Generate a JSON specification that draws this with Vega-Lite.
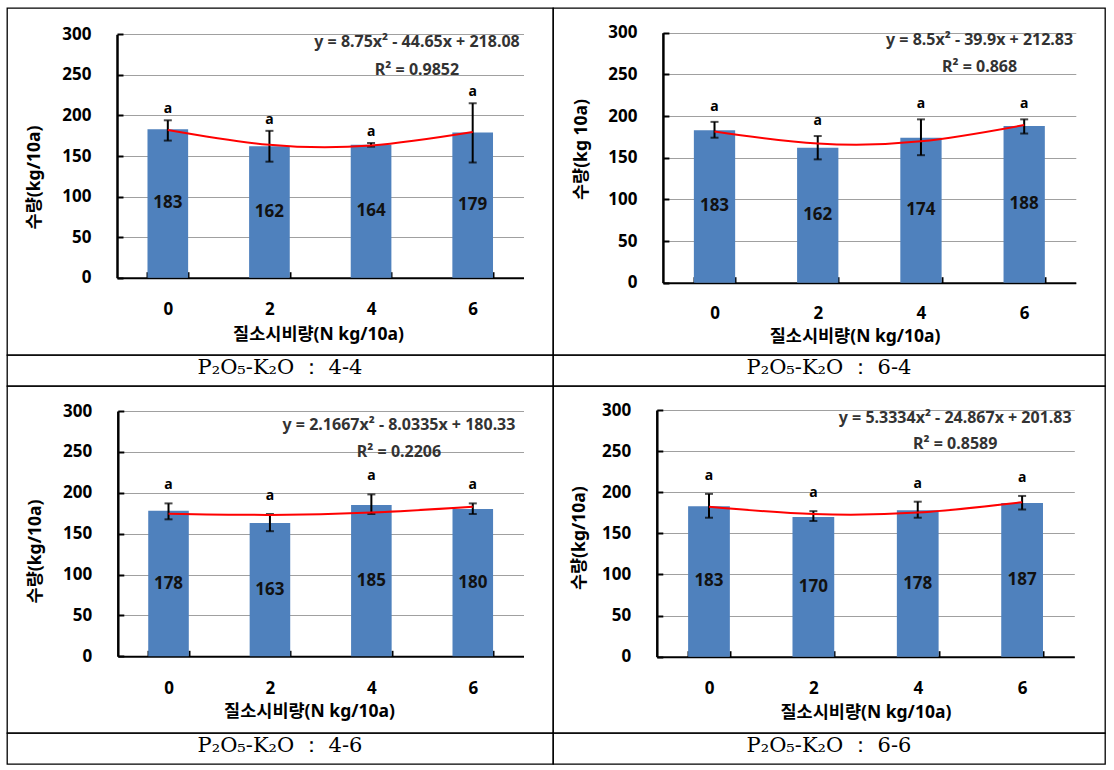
{
  "$schema": "https://vega.github.io/schema/vega-lite/v6.json",
  "background": "white",
  "padding": {"left": 6, "top": 7, "right": 0, "bottom": 0},
  "columns": 2,
  "spacing": 0,
  "bounds": "flush",
  "datasets": {
    "p1": [
      {"n": "0", "value": 183, "lo": 169, "hi": 194, "trend": 182.18, "sig": "a"},
      {"n": "2", "value": 162, "lo": 143, "hi": 181, "trend": 163.78, "sig": "a"},
      {"n": "4", "value": 164, "lo": 161.5, "hi": 166, "trend": 162.88, "sig": "a"},
      {"n": "6", "value": 179, "lo": 142, "hi": 215, "trend": 179.48, "sig": "a"}
    ],
    "p2": [
      {"n": "0", "value": 183, "lo": 174, "hi": 193, "trend": 181.43, "sig": "a"},
      {"n": "2", "value": 162, "lo": 148, "hi": 176, "trend": 167.03, "sig": "a"},
      {"n": "4", "value": 174, "lo": 153, "hi": 196, "trend": 169.63, "sig": "a"},
      {"n": "6", "value": 188, "lo": 179, "hi": 196, "trend": 189.23, "sig": "a"}
    ],
    "p3": [
      {"n": "0", "value": 178, "lo": 167.5, "hi": 187, "trend": 174.46, "sig": "a"},
      {"n": "2", "value": 163, "lo": 153, "hi": 174, "trend": 172.93, "sig": "a"},
      {"n": "4", "value": 185, "lo": 174, "hi": 198, "trend": 175.73, "sig": "a"},
      {"n": "6", "value": 180, "lo": 174, "hi": 187, "trend": 182.86, "sig": "a"}
    ],
    "p4": [
      {"n": "0", "value": 183, "lo": 169, "hi": 198, "trend": 182.30, "sig": "a"},
      {"n": "2", "value": 170, "lo": 165, "hi": 177, "trend": 173.43, "sig": "a"},
      {"n": "4", "value": 178, "lo": 169, "hi": 188.5, "trend": 175.23, "sig": "a"},
      {"n": "6", "value": 187, "lo": 179, "hi": 195.5, "trend": 187.70, "sig": "a"}
    ]
  },
  "concat": [
    {
      "width": 546, "height": 347,
      "view": {"stroke": "#000", "strokeWidth": 1.3},
      "title": {"text": "y = 8.75x² - 44.65x + 218.08", "subtitle": "R² = 0.9852", "anchor": "start", "align": "center", "frame": "group", "dx": 410, "offset": -70, "subtitlePadding": 12.3},
      "data": {"name": "p1"},
      "resolve": {"scale": {"y": "independent"}},
      "encoding": {
        "x": {"field": "n", "type": "ordinal", "scale": {"domain": ["0", "2", "4", "6"], "range": [110, 516.5], "paddingInner": 0.6, "paddingOuter": 0.3},
          "axis": {"title": "질소시비량(N kg/10a)", "titleX": 311, "titleY": 48, "offset": -77.3}}
      },
      "layer": [
        {"mark": {"type": "bar", "color": "#4F81BD"},
         "encoding": {"y": {"field": "value", "type": "quantitative", "scale": {"domain": [0, 300], "range": [269.7, 26.3], "nice": false},
           "axis": {"title": "수량(kg/10a)", "values": [0, 50, 100, 150, 200, 250, 300], "offset": -110, "titleX": -74, "titleY": 169}}}},
        {"mark": {"type": "errorbar", "ticks": {"size": 8, "thickness": 2, "color": "#000"}, "rule": {"strokeWidth": 2, "color": "#000"}},
         "encoding": {"y": {"field": "lo", "type": "quantitative", "scale": {"domain": [0, 300], "range": [269.7, 26.3], "nice": false}, "axis": null}, "y2": {"field": "hi"}}},
        {"mark": {"type": "line", "color": "#FF0000", "strokeWidth": 2, "interpolate": "natural"},
         "encoding": {"y": {"field": "trend", "type": "quantitative", "scale": {"domain": [0, 300], "range": [269.7, 26.3], "nice": false}, "axis": null}}},
        {"mark": {"type": "text", "dy": -11, "fontSize": 14, "fontWeight": "bold", "color": "#000"},
         "encoding": {"y": {"field": "hi", "type": "quantitative", "scale": {"domain": [0, 300], "range": [269.7, 26.3], "nice": false}, "axis": null}, "text": {"field": "sig"}}},
        {"mark": {"type": "text", "fontSize": 17, "fontWeight": "bold", "color": "#111"},
         "encoding": {"y": {"field": "value", "type": "quantitative", "scale": {"domain": [0, 600], "range": [269.7, 26.3], "nice": false}, "axis": null}, "text": {"field": "value"}}}
      ]
    },
    {
      "width": 552, "height": 347,
      "view": {"stroke": "#000", "strokeWidth": 1.3},
      "title": {"text": "y = 8.5x² - 39.9x + 212.83", "subtitle": "R² = 0.868", "anchor": "start", "align": "center", "frame": "group", "dx": 426.6, "offset": -66.7, "subtitlePadding": 10.4},
      "data": {"name": "p2"},
      "resolve": {"scale": {"y": "independent"}},
      "encoding": {
        "x": {"field": "n", "type": "ordinal", "scale": {"domain": ["0", "2", "4", "6"], "range": [109.9, 522.8], "paddingInner": 0.6, "paddingOuter": 0.3},
          "axis": {"title": "질소시비량(N kg/10a)", "titleX": 301.6, "titleY": 45, "offset": -72.3, "labelPadding": 29}}
      },
      "layer": [
        {"mark": {"type": "bar", "color": "#4F81BD"},
         "encoding": {"y": {"field": "value", "type": "quantitative", "scale": {"domain": [0, 300], "range": [274.7, 24.7], "nice": false},
           "axis": {"title": "수량(kg 10a)", "values": [0, 50, 100, 150, 200, 250, 300], "offset": -109.9, "titleX": -72, "titleY": 141}}}},
        {"mark": {"type": "errorbar", "ticks": {"size": 8, "thickness": 2, "color": "#000"}, "rule": {"strokeWidth": 2, "color": "#000"}},
         "encoding": {"y": {"field": "lo", "type": "quantitative", "scale": {"domain": [0, 300], "range": [274.7, 24.7], "nice": false}, "axis": null}, "y2": {"field": "hi"}}},
        {"mark": {"type": "line", "color": "#FF0000", "strokeWidth": 2, "interpolate": "natural"},
         "encoding": {"y": {"field": "trend", "type": "quantitative", "scale": {"domain": [0, 300], "range": [274.7, 24.7], "nice": false}, "axis": null}}},
        {"mark": {"type": "text", "dy": -15, "fontSize": 14, "fontWeight": "bold", "color": "#000"},
         "encoding": {"y": {"field": "hi", "type": "quantitative", "scale": {"domain": [0, 300], "range": [274.7, 24.7], "nice": false}, "axis": null}, "text": {"field": "sig"}}},
        {"mark": {"type": "text", "fontSize": 17, "fontWeight": "bold", "color": "#111"},
         "encoding": {"y": {"field": "value", "type": "quantitative", "scale": {"domain": [0, 600], "range": [274.7, 24.7], "nice": false}, "axis": null}, "text": {"field": "value"}}}
      ]
    },
    {
      "width": 546, "height": 31,
      "view": {"stroke": "#000", "strokeWidth": 1.3},
      "data": {"values": [{"label": "P₂O₅-K₂O ： 4-4"}]},
      "mark": {"type": "text", "font": "DejaVu Serif", "fontSize": 21, "dy": -3, "color": "#000"},
      "encoding": {"text": {"field": "label"}}
    },
    {
      "width": 552, "height": 31,
      "view": {"stroke": "#000", "strokeWidth": 1.3},
      "data": {"values": [{"label": "P₂O₅-K₂O ： 6-4"}]},
      "mark": {"type": "text", "font": "DejaVu Serif", "fontSize": 21, "dy": -3, "color": "#000"},
      "encoding": {"text": {"field": "label"}}
    },
    {
      "width": 546, "height": 347,
      "view": {"stroke": "#000", "strokeWidth": 1.3},
      "title": {"text": "y = 2.1667x² - 8.0335x + 180.33", "subtitle": "R² = 0.2206", "anchor": "start", "align": "center", "frame": "group", "dx": 392, "offset": -74, "subtitlePadding": 10.7},
      "data": {"name": "p3"},
      "resolve": {"scale": {"y": "independent"}},
      "encoding": {
        "x": {"field": "n", "type": "ordinal", "scale": {"domain": ["0", "2", "4", "6"], "range": [110.8, 516.5], "paddingInner": 0.6, "paddingOuter": 0.3},
          "axis": {"title": "질소시비량(N kg/10a)", "titleX": 302, "titleY": 46, "offset": -76.7}}
      },
      "layer": [
        {"mark": {"type": "bar", "color": "#4F81BD"},
         "encoding": {"y": {"field": "value", "type": "quantitative", "scale": {"domain": [0, 300], "range": [270.3, 25], "nice": false},
           "axis": {"title": "수량(kg/10a)", "values": [0, 50, 100, 150, 200, 250, 300], "offset": -110.8, "titleX": -73, "titleY": 165}}}},
        {"mark": {"type": "errorbar", "ticks": {"size": 8, "thickness": 2, "color": "#000"}, "rule": {"strokeWidth": 2, "color": "#000"}},
         "encoding": {"y": {"field": "lo", "type": "quantitative", "scale": {"domain": [0, 300], "range": [270.3, 25], "nice": false}, "axis": null}, "y2": {"field": "hi"}}},
        {"mark": {"type": "line", "color": "#FF0000", "strokeWidth": 2, "interpolate": "natural"},
         "encoding": {"y": {"field": "trend", "type": "quantitative", "scale": {"domain": [0, 300], "range": [270.3, 25], "nice": false}, "axis": null}}},
        {"mark": {"type": "text", "dy": -18, "fontSize": 14, "fontWeight": "bold", "color": "#000"},
         "encoding": {"y": {"field": "hi", "type": "quantitative", "scale": {"domain": [0, 300], "range": [270.3, 25], "nice": false}, "axis": null}, "text": {"field": "sig"}}},
        {"mark": {"type": "text", "fontSize": 17, "fontWeight": "bold", "color": "#111"},
         "encoding": {"y": {"field": "value", "type": "quantitative", "scale": {"domain": [0, 600], "range": [270.3, 25], "nice": false}, "axis": null}, "text": {"field": "value"}}}
      ]
    },
    {
      "width": 552, "height": 347,
      "view": {"stroke": "#000", "strokeWidth": 1.3},
      "title": {"text": "y = 5.3334x² - 24.867x + 201.83", "subtitle": "R² = 0.8589", "anchor": "start", "align": "center", "frame": "group", "dx": 402.2, "offset": -66.3, "subtitlePadding": 10.6},
      "data": {"name": "p4"},
      "resolve": {"scale": {"y": "independent"}},
      "encoding": {
        "x": {"field": "n", "type": "ordinal", "scale": {"domain": ["0", "2", "4", "6"], "range": [103.8, 521.3], "paddingInner": 0.6, "paddingOuter": 0.3},
          "axis": {"title": "질소시비량(N kg/10a)", "titleX": 312.4, "titleY": 47, "offset": -76.3}}
      },
      "layer": [
        {"mark": {"type": "bar", "color": "#4F81BD"},
         "encoding": {"y": {"field": "value", "type": "quantitative", "scale": {"domain": [0, 300], "range": [270.7, 24], "nice": false},
           "axis": {"title": "수량(kg/10a)", "values": [0, 50, 100, 150, 200, 250, 300], "offset": -103.8, "titleX": -68, "titleY": 151.7}}}},
        {"mark": {"type": "errorbar", "ticks": {"size": 8, "thickness": 2, "color": "#000"}, "rule": {"strokeWidth": 2, "color": "#000"}},
         "encoding": {"y": {"field": "lo", "type": "quantitative", "scale": {"domain": [0, 300], "range": [270.7, 24], "nice": false}, "axis": null}, "y2": {"field": "hi"}}},
        {"mark": {"type": "line", "color": "#FF0000", "strokeWidth": 2, "interpolate": "natural"},
         "encoding": {"y": {"field": "trend", "type": "quantitative", "scale": {"domain": [0, 300], "range": [270.7, 24], "nice": false}, "axis": null}}},
        {"mark": {"type": "text", "dy": -18, "fontSize": 14, "fontWeight": "bold", "color": "#000"},
         "encoding": {"y": {"field": "hi", "type": "quantitative", "scale": {"domain": [0, 300], "range": [270.7, 24], "nice": false}, "axis": null}, "text": {"field": "sig"}}},
        {"mark": {"type": "text", "fontSize": 17, "fontWeight": "bold", "color": "#111"},
         "encoding": {"y": {"field": "value", "type": "quantitative", "scale": {"domain": [0, 600], "range": [270.7, 24], "nice": false}, "axis": null}, "text": {"field": "value"}}}
      ]
    },
    {
      "width": 546, "height": 31,
      "view": {"stroke": "#000", "strokeWidth": 1.3},
      "data": {"values": [{"label": "P₂O₅-K₂O ： 4-6"}]},
      "mark": {"type": "text", "font": "DejaVu Serif", "fontSize": 21, "dy": -3, "color": "#000"},
      "encoding": {"text": {"field": "label"}}
    },
    {
      "width": 552, "height": 31,
      "view": {"stroke": "#000", "strokeWidth": 1.3},
      "data": {"values": [{"label": "P₂O₅-K₂O ： 6-6"}]},
      "mark": {"type": "text", "font": "DejaVu Serif", "fontSize": 21, "dy": -3, "color": "#000"},
      "encoding": {"text": {"field": "label"}}
    }
  ],
  "config": {
    "font": "Noto Sans, Noto Sans CJK KR",
    "title": {"fontSize": 16, "fontWeight": "bold", "color": "#333", "subtitleFontSize": 16, "subtitleFontWeight": "bold", "subtitleColor": "#333", "subtitleFont": "Noto Sans"},
    "axis": {"labelColor": "#000", "titleColor": "#000", "labelFontWeight": "bold", "titleFontWeight": "bold", "labelFontSize": 17, "titleFontSize": 17.5, "domainColor": "#000", "tickColor": "#000", "labelOverlap": false, "labelFlush": false},
    "axisX": {"labelAngle": 0, "labelPadding": 30, "tickBand": "extent", "tickSize": -6, "tickWidth": 2, "domainWidth": 2, "grid": false},
    "axisY": {"grid": true, "gridColor": "#a0a0a0", "gridWidth": 1, "tickSize": -6, "tickWidth": 2, "domainWidth": 2.5, "labelPadding": 32}
  }
}
